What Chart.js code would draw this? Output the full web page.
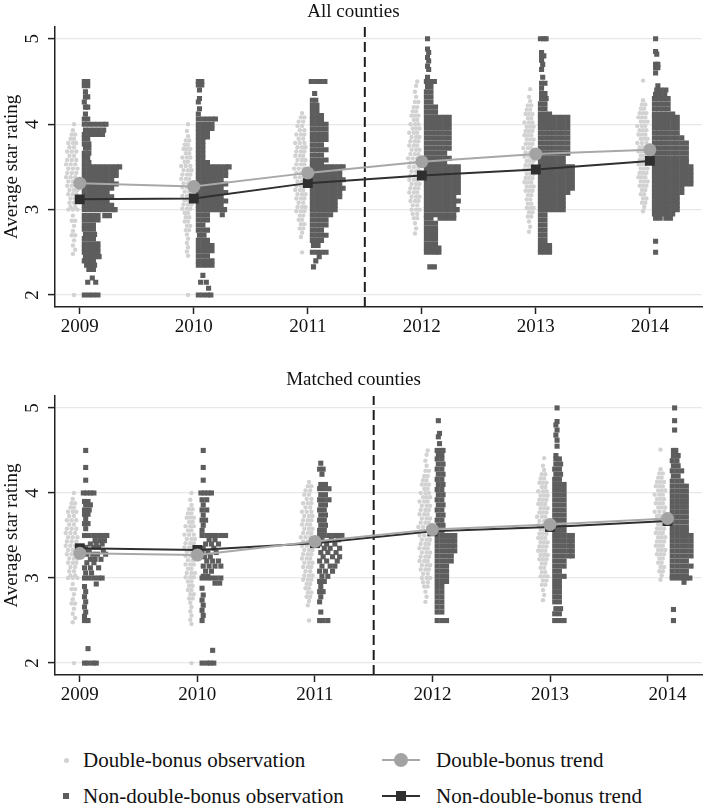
<!DOCTYPE html>
<html>
<head>
<meta charset="utf-8">
<script src="https://cdn.jsdelivr.net/npm/chart.js@4.4.1/dist/chart.umd.min.js"></script>
<style>
  html, body { margin: 0; padding: 0; background: #fff; }
  body { width: 709px; height: 809px; position: relative; overflow: hidden; font-family: "Liberation Serif", "Times New Roman", serif; }
  canvas { position: absolute; left: 0; }
  #allChart { top: 0; }
  #matchedChart { top: 367px; }
  .leg { position: absolute; font-size: 21px; line-height: 24px; color: #111; white-space: nowrap; }
  .mk { position: absolute; }
</style>
</head>
<body>
<canvas id="allChart" width="709" height="350"></canvas>
<canvas id="matchedChart" width="709" height="350"></canvas>

<div class="mk" style="left:63.5px;top:757.5px;width:5px;height:5px;border-radius:50%;background:#d2d2d2"></div>
<div class="leg" style="left:83px;top:748px">Double-bonus observation</div>
<div class="mk" style="left:63px;top:793px;width:6px;height:6px;background:#5d5d5d"></div>
<div class="leg" style="left:83px;top:784px">Non-double-bonus observation</div>

<div class="mk" style="left:382px;top:759px;width:38px;height:2px;background:#a8a8a8"></div>
<div class="mk" style="left:394px;top:753px;width:14px;height:14px;border-radius:50%;background:#a3a3a3"></div>
<div class="leg" style="left:436px;top:748px">Double-bonus trend</div>
<div class="mk" style="left:382px;top:795px;width:38px;height:2px;background:#2f2f2f"></div>
<div class="mk" style="left:396px;top:791px;width:10px;height:10px;background:#2f2f2f"></div>
<div class="leg" style="left:436px;top:784px">Non-double-bonus trend</div>

<script>
// years and axes
const years = [2009, 2010, 2011, 2012, 2013, 2014];
const yTicks = [2, 3, 4, 5];
const yRange = [1.86, 5.14];
const allXRange = [2008.783, 2014.457];
const matchedXRange = [2008.789, 2014.293];
const policyBreak = 2011.5;

// group means (trend lines)
const allDoubleTrend = [3.31, 3.27, 3.43, 3.56, 3.65, 3.70];
const allNonTrend = [3.12, 3.13, 3.31, 3.40, 3.47, 3.57];
const matchedDoubleTrend = [3.29, 3.27, 3.43, 3.57, 3.63, 3.70];
const matchedNonTrend = [3.35, 3.33, 3.41, 3.55, 3.60, 3.67];

// observations: one list per year, rows of [rating, jitter offsets in 1/100 year]
// double-bonus counties are the same in both panels
const doubleObs = [
  [[4.00,-5],[3.93,-6],[3.88,-7,-4],[3.83,-8,-5],[3.78,-10,-6,-3],[3.73,-9,-5],[3.68,-11,-7,-3],[3.63,-9,-5],[3.58,-11,-7,-3],[3.53,-12,-8,-4],[3.48,-10,-6,-2],[3.43,-11,-7,-3],[3.38,-12,-8,-4],[3.33,-10,-6,-2],[3.28,-11,-7,-3],[3.23,-9,-5,-2],[3.18,-10,-6,-3],[3.13,-8,-4],[3.08,-9,-5],[3.03,-8,-4],[3.00,-10,-6,-2],[2.93,-6],[2.87,-7,-4],[2.81,-5],[2.75,-6],[2.70,-7,-4],[2.64,-5],[2.58,-6],[2.53,-4],[2.48,-6],[2.00,-5]],
  [[4.00,-5],[3.92,-6],[3.86,-5],[3.81,-7,-4],[3.76,-8,-5],[3.71,-9,-6,-3],[3.66,-7,-4],[3.61,-10,-6,-3],[3.56,-8,-5],[3.51,-11,-7,-3],[3.46,-9,-5,-2],[3.41,-10,-6,-3],[3.36,-11,-7,-4],[3.31,-9,-5,-2],[3.26,-10,-6,-3],[3.21,-8,-4],[3.16,-10,-6,-3],[3.11,-8,-5],[3.06,-9,-5,-2],[3.01,-10,-6,-3],[2.96,-8,-5],[2.91,-7,-4],[2.86,-8,-5],[2.81,-6,-3],[2.76,-7,-4],[2.71,-6],[2.66,-5],[2.61,-6],[2.56,-5],[2.51,-6],[2.46,-5],[2.00,-5]],
  [[4.13,-5],[4.08,-6,-3],[4.03,-8,-4],[3.98,-9,-5],[3.93,-7,-3],[3.88,-10,-6,-3],[3.83,-8,-4],[3.78,-11,-7,-3],[3.73,-9,-5,-2],[3.68,-10,-6,-3],[3.63,-11,-7,-4],[3.58,-9,-5,-2],[3.53,-10,-6,-3],[3.48,-12,-8,-4],[3.43,-10,-6,-2],[3.38,-11,-7,-3],[3.33,-9,-5,-2],[3.28,-10,-6,-3],[3.23,-11,-7,-4],[3.18,-9,-5,-2],[3.13,-10,-6,-3],[3.08,-8,-4],[3.03,-9,-5,-2],[2.98,-10,-6,-3],[2.93,-7,-4],[2.88,-8,-5],[2.83,-6,-3],[2.78,-7,-4],[2.73,-5],[2.68,-6],[2.50,-5]],
  [[4.50,-4],[4.45,-5],[4.38,-6],[4.32,-5],[4.26,-6,-3],[4.20,-7,-4],[4.15,-8,-5],[4.10,-9,-6,-3],[4.05,-7,-4],[4.00,-10,-6,-3],[3.95,-8,-5,-2],[3.90,-11,-7,-4],[3.85,-9,-5,-2],[3.80,-10,-6,-3],[3.75,-11,-7,-4],[3.70,-9,-5,-2],[3.65,-10,-6,-3],[3.60,-12,-8,-4],[3.55,-10,-6,-2],[3.50,-11,-7,-3],[3.45,-9,-5,-2],[3.40,-10,-6,-3],[3.35,-11,-7,-4],[3.30,-9,-5,-2],[3.25,-10,-6,-3],[3.20,-11,-7,-4],[3.15,-9,-5,-2],[3.10,-10,-6,-3],[3.05,-8,-4],[3.00,-9,-5,-2],[2.95,-8,-4],[2.90,-7,-4],[2.84,-6],[2.78,-5],[2.72,-6]],
  [[4.41,-5],[4.32,-6],[4.27,-5],[4.22,-7,-4],[4.17,-8,-5],[4.12,-9,-6,-3],[4.07,-7,-4],[4.02,-10,-6,-3],[3.97,-8,-5,-2],[3.92,-9,-6,-3],[3.87,-10,-7,-4],[3.82,-8,-5,-2],[3.77,-9,-6,-3],[3.72,-11,-7,-4],[3.67,-9,-5,-2],[3.62,-10,-6,-3],[3.57,-8,-5,-2],[3.52,-9,-6,-3],[3.47,-10,-7,-4],[3.42,-8,-5,-2],[3.37,-9,-6,-3],[3.32,-10,-7,-4],[3.27,-8,-5,-2],[3.22,-9,-6,-3],[3.17,-7,-4],[3.12,-8,-5],[3.07,-7,-4],[3.02,-8,-5,-2],[2.97,-6,-3],[2.92,-7,-4],[2.86,-6],[2.80,-5],[2.74,-6]],
  [[4.51,-6],[4.28,-6],[4.23,-7,-4],[4.18,-8,-5],[4.13,-9,-6,-3],[4.08,-10,-7,-4],[4.03,-8,-5,-2],[3.98,-11,-7,-4],[3.93,-9,-6,-3],[3.88,-10,-7,-4],[3.83,-8,-5,-2],[3.78,-11,-7,-3],[3.73,-9,-6,-3],[3.68,-10,-7,-4],[3.63,-8,-5,-2],[3.58,-9,-6,-3],[3.53,-10,-7,-4],[3.48,-8,-5,-2],[3.43,-9,-6,-3],[3.38,-10,-7,-4],[3.33,-8,-5,-2],[3.28,-9,-6,-3],[3.23,-7,-4],[3.18,-8,-5],[3.13,-6,-3],[3.08,-7,-4],[3.03,-5],[2.98,-6]]
];

const allNonObs = [
  [[4.50,4,7],[4.45,4,7],[4.38,5],[4.32,5,7],[4.26,4],[4.20,5,7],[4.12,5],[4.06,4,7],[4.00,4,8,12,16,20,23],[3.93,5,9,13,17,21],[3.88,4,8,12,16,20],[3.83,4,7],[3.77,4,8],[3.72,5,8],[3.66,4,8],[3.61,4,7],[3.55,4,8],[3.50,4,8,12,16,20,24,28,32,35],[3.45,4,8,12,16,20,24,28,32],[3.40,4,8,12,16,20,24,28,32],[3.35,4,8,12,16,20,24,28],[3.30,4,8,12,16,20,24,28,32],[3.25,4,8,12,16,20,24,28],[3.20,4,8,12,16,20,24],[3.15,4,8,12,16,20,24,28],[3.10,4,8,12,16,20,24],[3.05,4,8,12,16,20,24,28],[3.00,4,8,12,16,20,24,28,31],[2.93,4,8,12,16,22,26],[2.88,4,8,12,16],[2.82,4,8,12],[2.77,4,8,12],[2.71,5,9,13],[2.66,4,8,12],[2.60,4,8,12,16],[2.55,4,8,12,16],[2.50,4,8,12,16],[2.45,5,9,13,17],[2.40,4,8,12],[2.35,6,10,13],[2.30,8,12],[2.20,11],[2.15,7,14],[2.00,4,8,12,16]],
  [[4.50,4,7],[4.46,4,7],[4.40,5],[4.30,5],[4.26,4],[4.18,5],[4.12,4],[4.06,4,8,12,16,19],[4.00,4,8,12,16],[3.95,4,8,12,16],[3.90,4,8,12],[3.85,4,8,12],[3.80,4,8],[3.75,4,8],[3.70,4,8],[3.65,4,8],[3.60,4,8],[3.55,4,8,12],[3.50,4,8,12,16,20,24,28,31],[3.45,4,8,12,16,20,24,28],[3.40,4,8,12,16,20,24,28],[3.35,4,8,12,16,20,24],[3.30,4,8,12,16,20,24,28],[3.25,4,8,12,16,20,24],[3.20,4,8,12,16,20,24,28],[3.15,4,8,12,16,20,24],[3.10,4,8,12,16,20,24,28],[3.05,4,8,12,16,20,24],[3.00,4,8,12,16,20,24,27],[2.94,4,8,12,25],[2.88,4,8,12],[2.82,4,8],[2.76,4,8,12],[2.70,5,9],[2.64,4,8,12],[2.58,4,8,12,16],[2.52,4,8,12,16],[2.46,4,8,12],[2.40,4,8,12,16],[2.35,4,8,12,16],[2.23,8],[2.15,6,11],[2.08,13],[2.00,4,8,12,15]],
  [[4.50,3,7,11,15],[4.36,6],[4.28,4,7],[4.22,4,8],[4.16,4,8],[4.10,4,8,12],[4.05,4,8,12],[4.00,4,8,12,16],[3.94,4,8,12,16],[3.88,4,8,12,16],[3.82,4,8,12,16],[3.76,4,8,12],[3.70,4,8,12,16],[3.64,4,8,12],[3.58,4,8,12,16],[3.54,4,8,12],[3.50,4,8,12,16,20,24,28,31],[3.45,4,8,12,16,20,24,28],[3.40,4,8,12,16,20,24,28],[3.35,4,8,12,16,20,24,28,31],[3.30,4,8,12,16,20,24,28],[3.25,4,8,12,16,20,24,28,31],[3.20,4,8,12,16,20,24,28],[3.15,4,8,12,16,20,24,28],[3.10,4,8,12,16,20,24],[3.05,4,8,12,16,20,24],[3.00,4,8,12,16,20,24],[2.94,4,8,12,16,20],[2.88,4,8,12,16],[2.82,4,8,12,16],[2.76,4,8,12],[2.70,4,8,12,16],[2.64,4,8,12],[2.58,5,9],[2.50,4,8,12,16],[2.45,10],[2.40,7],[2.33,5]],
  [[5.00,5],[4.88,5],[4.84,6],[4.78,5],[4.74,6],[4.68,5],[4.64,6],[4.55,5],[4.50,4,8,11],[4.44,5,8],[4.38,4,8],[4.32,4,8],[4.26,4,8],[4.20,4,8,12],[4.14,4,8,12],[4.08,4,8,12,16,20,24],[4.02,4,8,12,16,20,24],[3.96,4,8,12,16,20,24],[3.90,4,8,12,16,20,24],[3.84,4,8,12,16,20,24],[3.78,4,8,12,16,20,24],[3.72,4,8,12,16,20,24],[3.66,4,8,12,16,20],[3.60,4,8,12,16,20,24],[3.55,4,8,12,16,20],[3.50,4,8,12,16,20,24,28,32],[3.45,4,8,12,16,20,24,28,32],[3.40,4,8,12,16,20,24,28,32],[3.35,4,8,12,16,20,24,28,32],[3.30,4,8,12,16,20,24,28,32],[3.25,4,8,12,16,20,24,28,32],[3.20,4,8,12,16,20,24,28,32],[3.15,4,8,12,16,20,24,28],[3.10,4,8,12,16,20,24,28,32],[3.05,4,8,12,16,20,24,28],[3.00,4,8,12,16,20,24,28,31],[2.94,4,8,12,16,20,24,28],[2.90,4,8,16,20,24,28],[2.84,4,8,12],[2.78,4,8,12],[2.72,4,8,12],[2.66,4,8,12],[2.60,4,8,12],[2.55,4,8,12,15],[2.50,4,8,12,15],[2.33,7,11]],
  [[5.00,4,7,9],[4.84,5],[4.80,5,7],[4.75,5],[4.70,6],[4.64,5],[4.55,6],[4.48,5,8],[4.42,5],[4.36,5,8],[4.30,5,9],[4.24,4,8],[4.18,4,8],[4.12,4,8,12],[4.08,4,8,12,16,20,24,28],[4.02,4,8,12,16,20,24,28],[3.96,4,8,12,16,20,24,28],[3.90,4,8,12,16,20,24,28],[3.84,4,8,12,16,20,24,28],[3.78,4,8,12,16,20,24,28],[3.72,4,8,12,16,20,24,28],[3.66,4,8,12,16,20,24,28],[3.60,4,8,12,16,20,24],[3.55,4,8,12,16,20,24],[3.50,4,8,12,16,20,24,28,32],[3.45,4,8,12,16,20,24,28,32],[3.40,4,8,12,16,20,24,28,32],[3.35,4,8,12,16,20,24,28,32],[3.30,4,8,12,16,20,24,28,32],[3.25,4,8,12,16,20,24,28,32],[3.20,4,8,12,16,20,24,28],[3.15,4,8,12,16,20,24],[3.10,4,8,12,16,20,24],[3.05,4,8,12,16,20,24],[3.00,4,8,12,16,20,24],[2.94,4,8],[2.88,4,8],[2.82,4,8],[2.76,4,8],[2.70,4,8],[2.64,4,8],[2.58,4,8,12],[2.53,4,8,12],[2.50,4,8,12]],
  [[5.00,5],[4.85,5],[4.82,6],[4.70,5,7],[4.66,5,7],[4.60,5],[4.45,7],[4.40,6,10,14],[4.35,5,9,13],[4.30,4,8,12,16],[4.24,4,8,12,16],[4.18,4,8,12,16],[4.12,4,8,12,16,20],[4.08,4,8,12,16,20,24],[4.02,4,8,12,16,20,24],[3.96,4,8,12,16,20,24],[3.90,4,8,12,16,20,24],[3.84,4,8,12,16,20,24,28],[3.78,4,8,12,16,20,24,28,32],[3.72,4,8,12,16,20,24,28,32],[3.66,4,8,12,16,20,24,28,32],[3.60,4,8,12,16,20,24,28,32],[3.55,4,8,12,16,20,24,28,32],[3.50,4,8,12,16,20,24,28,32,36],[3.45,4,8,12,16,20,24,28,32,36],[3.40,4,8,12,16,20,24,28,32,36],[3.35,4,8,12,16,20,24,28,32,36],[3.30,4,8,12,16,20,24,28,32,36],[3.25,4,8,12,16,20,24,28],[3.20,4,8,12,16,20,24,28],[3.15,4,8,12,16,20,24],[3.10,4,8,12,16,20,24],[3.05,4,8,12,16,20,24],[3.00,4,8,12,16,20,24],[2.95,4,8,12,16,20],[2.90,5,9,14,18],[2.63,5],[2.50,5]]
];

const matchedNonObs = [
  [[4.50,5],[4.30,5],[4.15,5],[4.00,3,6,9,12],[3.90,4,7],[3.86,5,9],[3.80,4,8],[3.75,4,7],[3.70,5],[3.64,4,7],[3.58,5],[3.50,4,8,12,16,20,23],[3.44,13,17,21],[3.40,9,14,19],[3.36,5,12,16],[3.32,4,8,20],[3.28,6,11,15,22],[3.22,9,13,18],[3.18,6,12],[3.12,4,9,16],[3.06,5,10],[3.00,4,8,12,16,19],[2.93,14],[2.90,4],[2.84,5],[2.78,4],[2.72,5],[2.66,4],[2.60,5],[2.55,4],[2.50,4,7],[2.17,7],[2.00,4,7,11,14]],
  [[4.50,5],[4.30,5],[4.15,5],[4.00,3,6,9,12],[3.92,4,8],[3.86,5],[3.80,4,8],[3.74,5],[3.68,4,7],[3.62,5],[3.56,4],[3.50,4,8,12,16,20,24],[3.45,10,15],[3.40,7,12,18],[3.35,5,14],[3.30,4,9,16],[3.25,6,11],[3.20,8,13,18],[3.14,5,10,15,20],[3.08,7,12],[3.02,5,9],[3.00,4,8,12,16,20],[2.94,15,19],[2.88,4],[2.80,5],[2.74,4],[2.68,5],[2.62,4],[2.56,5],[2.50,4],[2.15,13],[2.00,4,8,11,14]],
  [[4.35,5],[4.28,4,7],[4.22,6],[4.10,5,9],[4.05,4,8,12],[3.98,5,9],[3.92,4,8,12],[3.86,5,9],[3.80,4,8],[3.74,5,9],[3.68,4,8],[3.62,5,9],[3.56,4,8],[3.50,4,8,12,16,20,23],[3.45,6,14,20],[3.40,4,10,17],[3.35,8,13,21],[3.30,5,11,18],[3.25,7,15,21],[3.20,4,10,19],[3.14,6,13,17],[3.08,4,9,15],[3.02,6,11],[2.96,4,8],[2.90,5],[2.84,4,7],[2.78,5],[2.72,4],[2.60,5],[2.50,4,7,11]],
  [[4.85,5],[4.70,6],[4.66,5],[4.58,6],[4.50,4,7,9],[4.45,5,8],[4.40,4,8],[4.34,5,9],[4.28,4,8],[4.22,5,9],[4.16,4,8],[4.10,5,9],[4.04,4,8],[3.98,5,9],[3.92,4,8],[3.86,5,9],[3.80,4,8],[3.74,5,9],[3.68,4,8],[3.62,5,9],[3.56,4,8],[3.50,4,8,12,16,19],[3.44,4,8,12,16,19],[3.38,4,8,12,16,19],[3.32,4,8,12,16,19],[3.26,4,8,12,16],[3.20,4,8,12,16],[3.14,4,8,12],[3.08,4,8,12],[3.02,4,8,12],[2.96,4,8,12],[2.90,4,8],[2.84,4,8],[2.78,4,8],[2.72,4,8],[2.66,4,8],[2.60,4,8],[2.50,4,8,12]],
  [[5.00,6],[4.84,6],[4.80,5],[4.74,6],[4.68,5],[4.62,6],[4.55,6],[4.44,5],[4.40,5,8],[4.34,5,9],[4.28,4,8],[4.22,5,9],[4.16,4,8],[4.10,4,8,12],[4.04,4,8,12],[3.98,4,8,12],[3.92,4,8,12],[3.86,4,8,12],[3.80,4,8,12],[3.74,4,8,12],[3.68,4,8,12],[3.62,4,8,12],[3.56,4,8,12],[3.50,4,8,12,16,19],[3.44,4,8,12,16,19],[3.38,4,8,12,16,19],[3.32,4,8,12,16,19],[3.26,4,8,12,16,19],[3.20,4,8,12],[3.14,4,8,12],[3.08,4,8],[3.02,4,8,12],[2.96,4,8],[2.90,4,8],[2.84,4,8],[2.78,4,8],[2.72,4,8],[2.64,5,9],[2.58,4,8],[2.50,4,8,12]],
  [[5.00,6],[4.85,6],[4.74,6],[4.50,5,7],[4.44,5,9],[4.38,4,8],[4.32,5,9],[4.26,4,8,12],[4.20,5,9],[4.14,4,8,12],[4.08,4,8,12,16],[4.02,4,8,12,16],[3.96,4,8,12,16],[3.90,4,8,12,16],[3.84,4,8,12,16],[3.78,4,8,12,16],[3.72,4,8,12,16],[3.66,4,8,12,16],[3.60,4,8,12,16],[3.55,4,8,12,16],[3.50,4,8,12,16,20],[3.44,4,8,12,16,20],[3.38,4,8,12,16,20],[3.32,4,8,12,16,20],[3.26,4,8,12,16,20],[3.20,4,8,12,16],[3.14,4,8,12,16,20],[3.08,4,8,12,16],[3.02,4,8,12,16],[3.00,4,8,12,16,19],[2.95,14],[2.63,5],[2.50,5]]
];

const serif = '"Liberation Serif", "Times New Roman", serif';
const ink = '#111';
const axisInk = '#222';

function toPoints(clouds) {
  return clouds.flatMap((rows, i) =>
    rows.flatMap(([y, ...offs]) => offs.map(o => ({ x: years[i] + o / 100, y }))));
}

function makeChart(id, title, xRange, nonObs, doubleTrend, nonTrend, titlePad, xAxisH) {
  return new Chart(document.getElementById(id), {
    type: 'scatter',
    data: {
      datasets: [
        {
          type: 'line', label: 'Double-bonus trend',
          data: years.map((x, i) => ({ x, y: doubleTrend[i] })),
          borderColor: '#a8a8a8', borderWidth: 2,
          pointStyle: 'circle', pointRadius: 6.5,
          pointBackgroundColor: '#a3a3a3', pointBorderWidth: 0, fill: false, tension: 0
        },
        {
          type: 'line', label: 'Non-double-bonus trend',
          data: years.map((x, i) => ({ x, y: nonTrend[i] })),
          borderColor: '#2f2f2f', borderWidth: 2,
          pointStyle: 'rect', pointRadius: 7,
          pointBackgroundColor: '#2f2f2f', pointBorderWidth: 0, fill: false, tension: 0
        },
        {
          label: 'Non-double-bonus observation', data: toPoints(nonObs),
          pointStyle: 'rect', pointRadius: 3.6,
          backgroundColor: '#5d5d5d', borderWidth: 0
        },
        {
          label: 'Double-bonus observation', data: toPoints(doubleObs),
          pointStyle: 'circle', pointRadius: 2.2,
          backgroundColor: '#d2d2d2', borderWidth: 0
        },
        {
          type: 'line', label: 'break',
          data: [{ x: policyBreak, y: yRange[0] }, { x: policyBreak, y: yRange[1] }],
          borderColor: '#1e1e1e', borderWidth: 2, borderDash: [10, 5], pointRadius: 0
        }
      ]
    },
    options: {
      responsive: false,
      animation: false,
      events: [],
      layout: { padding: { right: 2 } },
      plugins: {
        legend: { display: false },
        tooltip: { enabled: false },
        title: {
          display: true, text: title, color: ink, padding: titlePad,
          font: { family: serif, size: 19, weight: 'normal' }
        }
      },
      scales: {
        x: {
          type: 'linear', min: xRange[0], max: xRange[1],
          afterBuildTicks: s => { s.ticks = years.map(v => ({ value: v })); },
          afterFit: s => { s.height = xAxisH; },
          ticks: {
            callback: v => String(v), color: ink, padding: 2,
            maxRotation: 0, autoSkip: false,
            font: { family: serif, size: 19 }
          },
          grid: { drawOnChartArea: false, tickLength: 7, tickColor: axisInk, tickWidth: 1.5 },
          border: { color: axisInk, width: 1.5 }
        },
        y: {
          min: yRange[0], max: yRange[1],
          afterBuildTicks: s => { s.ticks = yTicks.map(v => ({ value: v })); },
          afterFit: s => { s.width = 55; },
          ticks: {
            callback: v => String(v), color: ink,
            minRotation: 90, maxRotation: 90, crossAlign: 'center', padding: 10,
            font: { family: serif, size: 19 }
          },
          grid: { color: '#e8e8e8', lineWidth: 1.2, tickLength: 7, tickColor: axisInk, tickWidth: 1.5 },
          border: { color: axisInk, width: 1.5 },
          title: {
            display: true, text: 'Average star rating', color: ink,
            padding: { top: 1, bottom: 0 },
            font: { family: serif, size: 19 }
          }
        }
      }
    }
  });
}

makeChart('allChart', 'All counties', allXRange, allNonObs,
  allDoubleTrend, allNonTrend, { top: 1, bottom: 3 }, 43);
makeChart('matchedChart', 'Matched counties', matchedXRange, matchedNonObs,
  matchedDoubleTrend, matchedNonTrend, { top: 1.6, bottom: 4.6 }, 42);
</script>
</body>
</html>
